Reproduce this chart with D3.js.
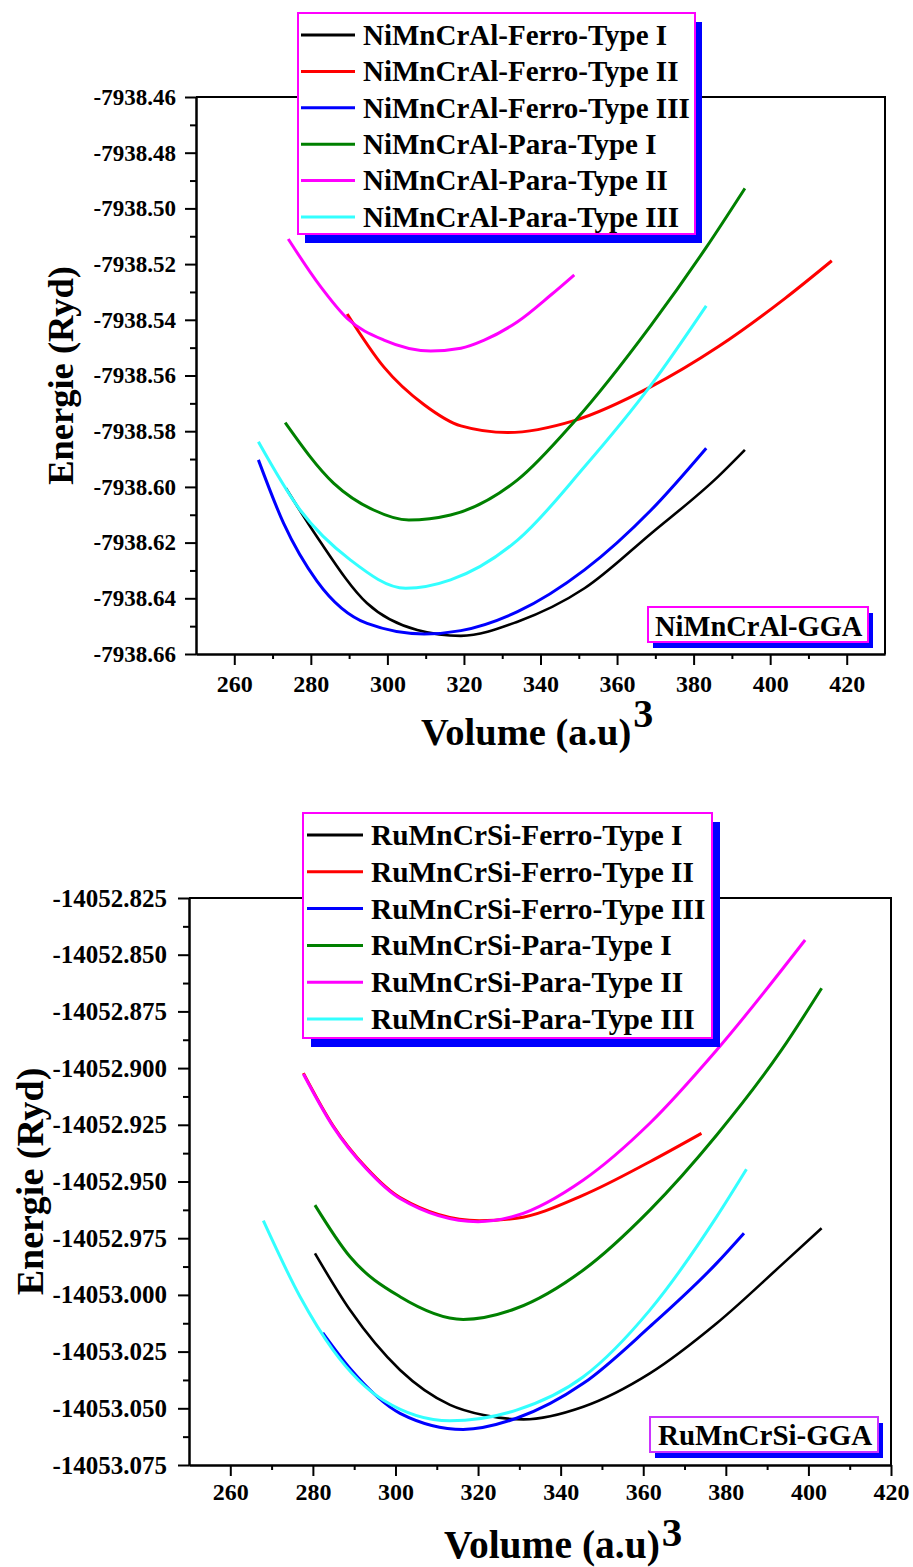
<!DOCTYPE html>
<html><head><meta charset="utf-8">
<script src="https://cdn.jsdelivr.net/npm/d3@7"></script>
<style>
body{margin:0;background:#fff}
svg text{font-family:"Liberation Serif","Times New Roman",serif;font-weight:bold;fill:#000}
</style>
</head><body>
<svg id="c" width="913" height="1567"></svg>
<script>
// ---------- shared ----------
const seriesNames = ["Ferro-Type I","Ferro-Type II","Ferro-Type III","Para-Type I","Para-Type II","Para-Type III"];
const seriesColors = ["#000000","#ff0000","#0000ff","#008000","#ff00ff","#33ffff"];
const xTicks = [260,280,300,320,340,360,380,400,420];

// ---------- NiMnCrAl (top) ----------
const niYTicks = [-7938.46,-7938.48,-7938.50,-7938.52,-7938.54,-7938.56,-7938.58,-7938.60,-7938.62,-7938.64,-7938.66];
const niFerroI  = [[273.5,-7938.6005],[281.6,-7938.6179],[294.7,-7938.6418],[307.8,-7938.6514],[319.2,-7938.6535],[334,-7938.6484],[351.5,-7938.6364],[368.9,-7938.6167],[386.4,-7938.5963],[393.4,-7938.5867]];
const niFerroII = [[289.5,-7938.5379],[299.1,-7938.557],[309.6,-7938.5705],[319.2,-7938.5781],[331.4,-7938.5805],[348.8,-7938.5762],[368.9,-7938.564],[386.4,-7938.5497],[403.9,-7938.5323],[416.1,-7938.5188]];
const niFerroIII= [[266.3,-7938.5903],[272.9,-7938.6131],[281.6,-7938.6338],[294.7,-7938.649],[309.6,-7938.6528],[319.2,-7938.6516],[334,-7938.6448],[351.5,-7938.6298],[368.9,-7938.6083],[383.3,-7938.5861]];
const niParaI   = [[273.3,-7938.5769],[286,-7938.5987],[296.4,-7938.6083],[305.6,-7938.6119],[316.5,-7938.6101],[334,-7938.5975],[348.8,-7938.5766],[368.9,-7938.5419],[383.3,-7938.514],[393.4,-7938.4928]];
const niParaII  = [[274.1,-7938.511],[282.5,-7938.528],[289.5,-7938.5395],[299.1,-7938.5473],[311.3,-7938.5512],[319.2,-7938.5502],[325.3,-7938.5473],[334,-7938.5407],[342.7,-7938.5311],[348.8,-7938.5239]];
const niParaIII = [[266.3,-7938.5838],[277.2,-7938.6083],[290.3,-7938.6262],[304.8,-7938.6364],[316.5,-7938.6334],[334,-7938.6191],[351.5,-7938.5928],[368.9,-7938.5634],[383.3,-7938.535]];

// ---------- RuMnCrSi (bottom) ----------
const ruYTicks = [-14052.825,-14052.850,-14052.875,-14052.900,-14052.925,-14052.950,-14052.975,-14053.000,-14053.025,-14053.050,-14053.075];
const ruFerroI  = [[280.5,-14052.9817],[289,-14053.0067],[301.1,-14053.0331],[313.2,-14053.0485],[321.3,-14053.053],[331,-14053.0549],[345.5,-14053.0493],[361.6,-14053.0346],[377.8,-14053.0125],[393.9,-14052.9861],[403.2,-14052.9706]];
const ruFerroII = [[277.7,-14052.9022],[284.9,-14052.9254],[293,-14052.9441],[301.1,-14052.9571],[320.3,-14052.9673],[329.3,-14052.9662],[345.5,-14052.956],[361.6,-14052.9413],[374.1,-14052.9288]];
const ruFerroIII= [[282.4,-14053.0167],[289,-14053.0324],[301.1,-14053.0522],[316.4,-14053.0593],[329.3,-14053.0544],[345.5,-14053.039],[361.6,-14053.014],[377.8,-14052.986],[384.4,-14052.9728]];
const ruParaI   = [[280.5,-14052.9604],[289,-14052.9832],[301.1,-14053.0008],[316.4,-14053.0108],[329.3,-14053.0059],[345.5,-14052.989],[361.6,-14052.9626],[377.8,-14052.9295],[393.5,-14052.892],[403.2,-14052.8648]];
const ruParaII  = [[277.7,-14052.9026],[284.9,-14052.9258],[293,-14052.9445],[301.1,-14052.9575],[320,-14052.9677],[329.3,-14052.965],[345.5,-14052.9493],[361.6,-14052.9243],[377.8,-14052.892],[399.2,-14052.8435]];
const ruParaIII = [[268,-14052.9673],[276.9,-14053.0008],[284.9,-14053.0243],[297,-14053.0463],[313.2,-14053.0555],[329.3,-14053.0508],[345.5,-14053.0361],[361.6,-14053.0067],[377.8,-14052.9655],[385,-14052.9446]];

const svg = d3.select("#c");

function panel(o){
  const g = svg.append("g");
  const x = d3.scaleLinear().domain(o.xDomain).range([o.left,o.right]);
  const y = d3.scaleLinear().domain(o.yDomain).range([o.bottom,o.top]);

  // frame top & right
  g.append("path").attr("d",`M${o.left},${o.top}H${o.right}V${o.bottom}`)
    .attr("fill","none").attr("stroke","#000").attr("stroke-width",2);

  const xMinor = d3.range(o.xDomain[0], o.xDomain[1]+0.001, 10).filter(v=>!xTicks.includes(v) && v>o.xDomain[0] && v<o.xDomain[1]);
  const yMinor = o.yTicks.slice(0,-1).map((v,i)=>(v+o.yTicks[i+1])/2);

  const styleAxis = sel => {
    sel.selectAll("path.domain").attr("stroke-width",2);
    sel.selectAll(".tick line").attr("stroke-width",2);
  };

  // minor ticks
  g.append("g").attr("transform",`translate(0,${o.bottom})`)
    .call(d3.axisBottom(x).tickValues(xMinor).tickSize(5).tickSizeOuter(0).tickFormat(""))
    .call(styleAxis);
  g.append("g").attr("transform",`translate(${o.left},0)`)
    .call(d3.axisLeft(y).tickValues(yMinor).tickSize(6).tickSizeOuter(0).tickFormat(""))
    .call(styleAxis);

  // major ticks
  const gx = g.append("g").attr("transform",`translate(0,${o.bottom})`)
    .call(d3.axisBottom(x).tickValues(xTicks).tickSize(11).tickSizeOuter(0).tickPadding(o.xPad).tickFormat(d=>String(d)))
    .call(styleAxis);
  gx.selectAll("text").style("font-size",o.xTickFont+"px");
  const gy = g.append("g").attr("transform",`translate(${o.left},0)`)
    .call(d3.axisLeft(y).tickValues(o.yTicks).tickSize(11).tickSizeOuter(0).tickPadding(o.yPad).tickFormat(d=>d.toFixed(o.dec)))
    .call(styleAxis);
  gy.selectAll("text").style("font-size",o.yTickFont+"px");

  // curves
  const line = d3.line().x(d=>x(d[0])).y(d=>y(d[1])).curve(d3.curveMonotoneX);
  o.series.forEach((s,i)=>{
    g.append("path").datum(s).attr("d",line).attr("fill","none")
      .attr("stroke",seriesColors[i]).attr("stroke-width",i===0?2.6:3);
  });

  // axis titles
  g.append("text").attr("transform",`translate(${o.yLabX},${(o.top+o.bottom)/2}) rotate(-90)`)
    .attr("text-anchor","middle").style("font-size",o.yLabFont+"px").text("Energie (Ryd)");
  const xl = g.append("text").attr("x",o.xLabX).attr("y",o.xLabY).style("font-size",o.xLabFont+"px").text("Volume (a.u)");
  const w = xl.node().getComputedTextLength();
  g.append("text").attr("x",o.xLabX + w + 2).attr("y",o.supY).style("font-size",o.supFont+"px").text("3");

  // legend
  const L = o.legend;
  g.append("rect").attr("x",L.x+L.sx).attr("y",L.y+L.sy).attr("width",L.w).attr("height",L.h).attr("fill","#0000ff");
  g.append("rect").attr("x",L.x).attr("y",L.y).attr("width",L.w).attr("height",L.h)
    .attr("fill","#fff").attr("stroke","#ff00ff").attr("stroke-width",2);
  o.names.forEach((n,i)=>{
    const yy = L.row0 + i*L.dy;
    g.append("line").attr("x1",L.lx1).attr("x2",L.lx2).attr("y1",yy).attr("y2",yy)
      .attr("stroke",seriesColors[i]).attr("stroke-width",3);
    g.append("text").attr("x",L.tx).attr("y",yy).attr("dy","0.34em").style("font-size",L.font+"px").text(n);
  });

  // GGA tag
  const T = o.tag;
  g.append("rect").attr("x",T.x+5).attr("y",T.y+6).attr("width",T.w).attr("height",T.h).attr("fill","#0000ff");
  g.append("rect").attr("x",T.x).attr("y",T.y).attr("width",T.w).attr("height",T.h)
    .attr("fill","#fff").attr("stroke",T.stroke).attr("stroke-width",2);
  g.append("text").attr("x",T.tx).attr("y",T.ty).style("font-size",T.font+"px").text(T.text);
}

panel({
  left:196,right:885,top:97,bottom:654,
  xDomain:[250,430], yDomain:[-7938.66,-7938.46], yTicks:niYTicks, dec:2,
  xPad:10, yPad:9, xTickFont:24, yTickFont:23,
  series:[niFerroI,niFerroII,niFerroIII,niParaI,niParaII,niParaIII],
  names:seriesNames.map(s=>"NiMnCrAl-"+s),
  yLabX:73, yLabFont:36.5,
  xLabX:421, xLabY:745, xLabFont:38.5, supY:727, supFont:40,
  legend:{x:298,y:13,w:397,h:221,sx:7,sy:9,lx1:301,lx2:355,tx:363,row0:35,dy:36.4,font:29},
  tag:{x:648,y:607,w:220,h:35,stroke:"#ff00ff",tx:655,ty:636,font:28.5,text:"NiMnCrAl-GGA"}
});

panel({
  left:189,right:891,top:898,bottom:1465,
  xDomain:[250,420], yDomain:[-14053.075,-14052.825], yTicks:ruYTicks, dec:3,
  xPad:7, yPad:11, xTickFont:24, yTickFont:25,
  series:[ruFerroI,ruFerroII,ruFerroIII,ruParaI,ruParaII,ruParaIII],
  names:seriesNames.map(s=>"RuMnCrSi-"+s),
  yLabX:43, yLabFont:38,
  xLabX:444, xLabY:1558, xLabFont:39.5, supY:1546, supFont:41,
  legend:{x:303,y:813,w:409,h:225,sx:8,sy:9,lx1:307,lx2:363,tx:371,row0:835,dy:36.8,font:29.4},
  tag:{x:650,y:1417,w:228,h:35,stroke:"#cc33ff",tx:658,ty:1445,font:29,text:"RuMnCrSi-GGA"}
});
</script>
</body></html>
